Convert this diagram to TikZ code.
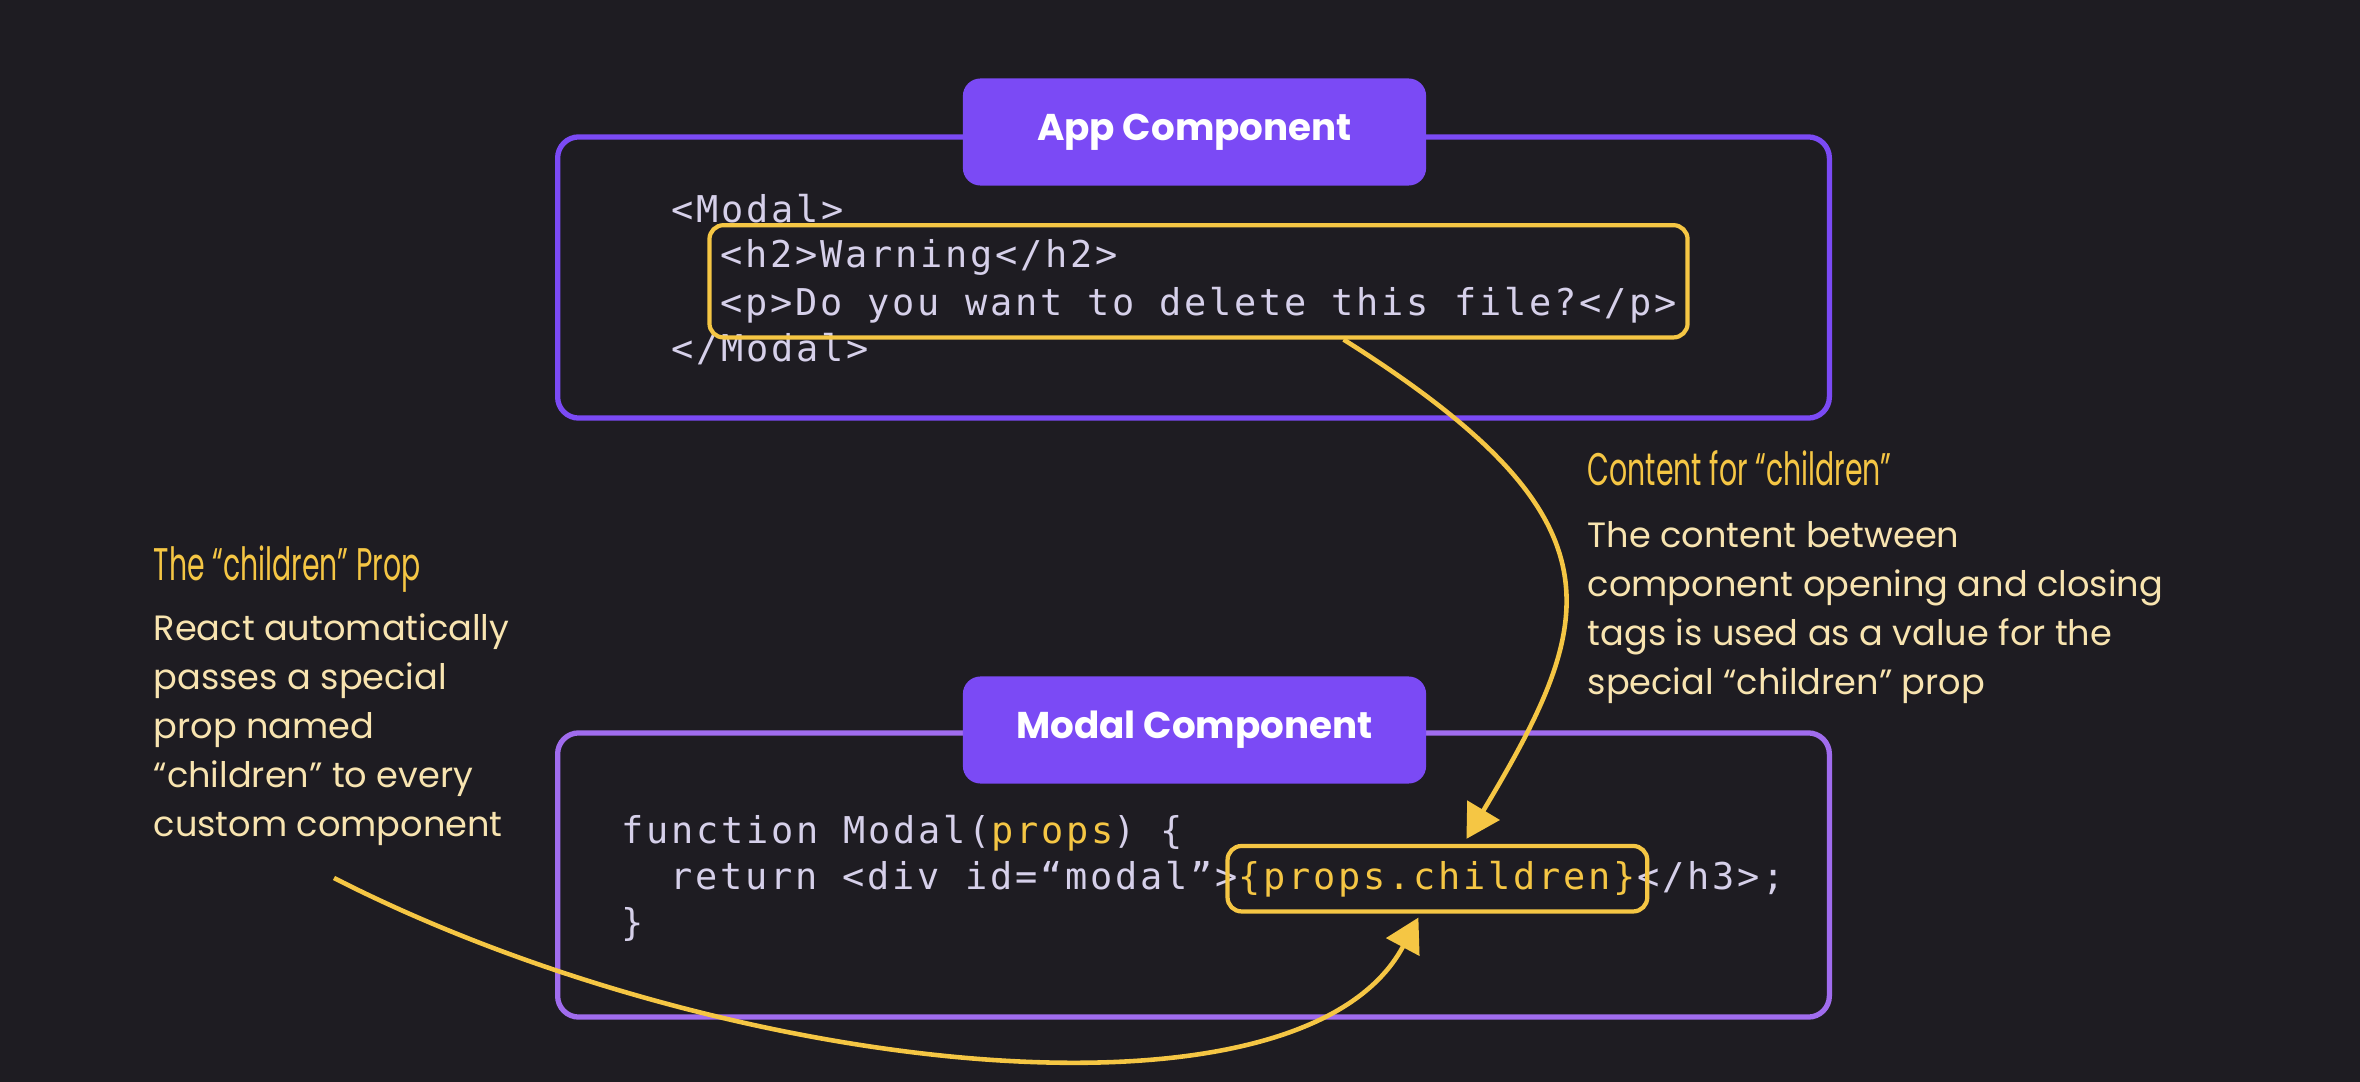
\documentclass[tikz,border=0pt]{standalone}
\usepackage{fontspec}
\setmainfont{Poppins}
\newfontfamily\codefont[LetterSpace=7.5]{DejaVu Sans Mono}
\newfontfamily\handfont[FakeStretch=0.62]{Poppins}
\usetikzlibrary{arrows.meta,positioning,fit}
\definecolor{night}{HTML}{1E1C22}
\definecolor{iris}{HTML}{7B4AF5}
\definecolor{lilac}{HTML}{A06CEE}
\definecolor{gold}{HTML}{F5C644}
\definecolor{cream}{HTML}{F8E4B0}
\definecolor{mist}{HTML}{D6D0EA}
\tikzset{
  >={Triangle[length=9.5pt,width=10.5pt]},
  frame/.style={draw=#1,line width=1.5pt,rounded corners=6pt,minimum width=12.71cm},
  frame/.default=iris,
  titlebox/.style={fill=iris,rounded corners=5pt,minimum width=4.63cm,minimum height=1.07cm,
    text=white,font=\fontsize{10.6}{13}\selectfont\bfseries},
  code/.style={text=mist,font=\codefont\fontsize{10.5}{13}\selectfont,inner sep=0pt,anchor=base west},
  hl/.style={draw=gold,line width=1.2pt,rounded corners=4pt,inner xsep=3pt,inner ysep=4pt},
  head/.style={text=gold,font=\handfont\fontsize{13}{15}\selectfont,inner sep=0pt,anchor=base west},
  note/.style={text=cream,font=\fontsize{10}{14}\selectfont,inner sep=0pt,anchor=base west},
  link/.style={->,draw=gold,line width=1.3pt},
}
\begin{document}
\begin{tikzpicture}[x=0.01cm,y=-0.01cm]
  \fill[night] (0,0) rectangle (2360,1082);
  \useasboundingbox (0,0) rectangle (2360,1082);
  % App component
  \node[frame,minimum height=2.81cm] (appF) at (1193.5,277.5) {};
  \node[titlebox] (appT) at (1194.5,132) {App Component};
  \node[code] (a1) at (671,222) {<Modal>};
  \node[code] (a2) at (720,268) {<h2>Warning</h2>};
  \node[code] (a3) at (720,315) {<p>Do you want to delete this file?</p>};
  \node[code] (a4) at (671,361) {</Modal>};
  \node[hl,fit=(a2)(a3)] (hlA) {};
  % Modal component
  \node[frame=lilac,minimum height=2.84cm] (modF) at (1193.5,875) {};
  \node[titlebox] (modT) at (1194.5,730) {Modal Component};
  \node[code] (m1) at (621,843) {function Modal(\textcolor{gold}{props}) \{};
  \node[code] (m2) at (670,889) {return <div id=“modal”>};
  \node[code,text=gold] (pc) at (m2.base east) {\{props.children\}};
  \node[code] (m3) at (pc.base east) {</h3>;};
  \node[code] (m4) at (621,935) {\}};
  \node[hl,fit=(pc)] (hlB) {};
  % notes
  \node[head] (headR) at (1587,485) {Content for “children”};
  \foreach \t [count=\i] in {The content between,component opening and closing,
    tags is used as a value for the,special “children” prop}
    \node[note] (noteR\i) at (1587,{547+49*(\i-1)}) {\t};
  \node[head] (headL) at (153,580) {The “children” Prop};
  \foreach \t [count=\i] in {React automatically,passes a special,prop named,
    “children” to every,custom component}
    \node[note] (noteL\i) at (153,{640+49*(\i-1)}) {\t};
  % arrows
  \coordinate (fromL) at (334,878);
  \draw[link] ([xshift=1.45cm]hlA.south) .. controls (1630,520) and (1598,619)
    .. ([xshift=0.29cm,yshift=0.05cm]hlB.north);
  \draw[link] (fromL) .. controls (720,1075) and (1300,1140)
    .. ([xshift=-0.19cm,yshift=-0.04cm]hlB.south);
\end{tikzpicture}
\end{document}
